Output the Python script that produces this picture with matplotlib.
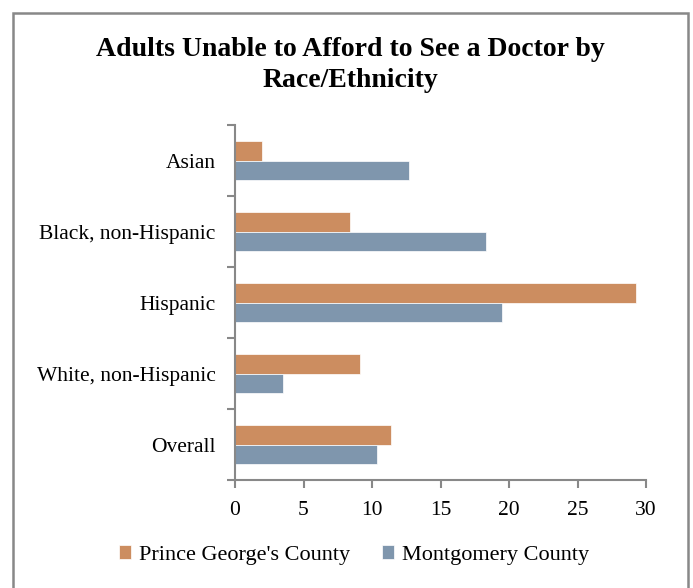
import matplotlib.pyplot as plt
from matplotlib.patches import Rectangle
from matplotlib.ticker import FixedLocator

plt.rcParams["font.family"] = ["Liberation Serif", "DejaVu Serif"]

groups = ["Asian", "Black, non-Hispanic", "Hispanic", "White, non-Hispanic", "Overall"]
prince_georges = [2.0, 8.4, 29.3, 9.1, 11.4]
montgomery = [12.7, 18.3, 19.5, 3.5, 10.4]
series_names = ["Prince George's County", "Montgomery County"]
x_ticks = [0, 5, 10, 15, 20, 25, 30]

pg_color = "#CC8D60"
mc_color = "#7F96AD"
axis_gray = "#888888"

fig = plt.figure(figsize=(6.93, 5.88), dpi=100)
ax = fig.add_axes([235 / 693, 1 - 480 / 588, 411 / 693, 355 / 588])

# first category at the top
ypos = list(range(len(groups) - 1, -1, -1))
h = 0.28
ax.barh([y + h / 2 for y in ypos], prince_georges, height=h, color=pg_color,
        edgecolor="white", linewidth=0.5, label=series_names[0])
ax.barh([y - h / 2 for y in ypos], montgomery, height=h, color=mc_color,
        edgecolor="white", linewidth=0.5, label=series_names[1])

ax.set_xlim(0, 30)
ax.set_ylim(-0.5, len(groups) - 0.5)
ax.set_xticks(x_ticks)
ax.set_xticklabels([str(t) for t in x_ticks], fontsize=15.5)
ax.set_yticks(ypos)
ax.set_yticklabels(groups, fontsize=15.5)
ax.yaxis.set_minor_locator(FixedLocator([i - 0.5 for i in range(len(groups) + 1)]))

ax.tick_params(axis="y", which="major", length=0, pad=14)
ax.tick_params(axis="y", which="minor", length=6, width=1.5, color=axis_gray)
ax.tick_params(axis="x", length=6, width=1.5, color=axis_gray, pad=9)

for side in ["top", "right"]:
    ax.spines[side].set_visible(False)
for side in ["left", "bottom"]:
    ax.spines[side].set_color(axis_gray)
    ax.spines[side].set_linewidth(1.5)

fig.text(350 / 693, 1 - 65 / 588,
         "Adults Unable to Afford to See a Doctor by\nRace/Ethnicity",
         ha="center", va="center", fontsize=20, fontweight="bold",
         linespacing=1.3)

fig.legend(loc="center", bbox_to_anchor=(354 / 693, 1 - 555 / 588), ncol=2,
           frameon=False, fontsize=16, handlelength=0.55, handleheight=0.55,
           handletextpad=0.35, columnspacing=1.45)

# outer chart frame
fig.patches.append(Rectangle((13 / 693, -0.05), 675 / 693, 1.05 - 13 / 588,
                             transform=fig.transFigure, fill=False,
                             edgecolor=axis_gray, linewidth=1.8))

fig.savefig("out.png", dpi=100)
